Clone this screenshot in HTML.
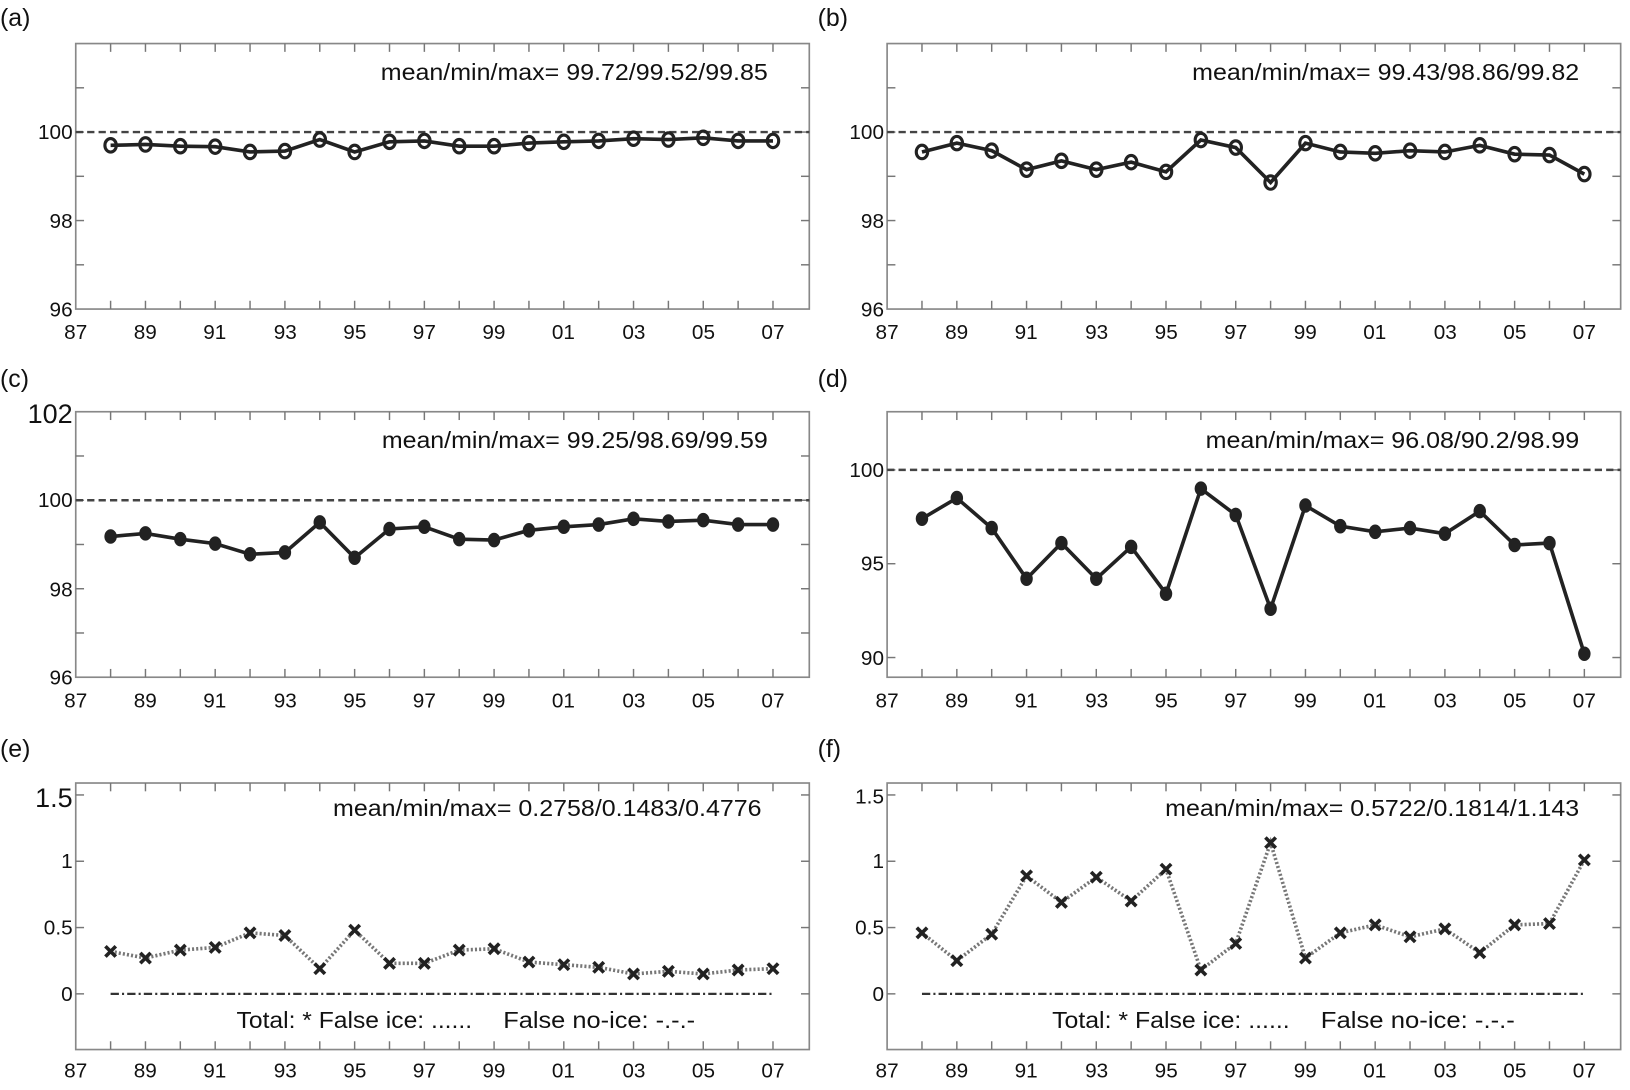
<!DOCTYPE html>
<html><head><meta charset="utf-8"><style>
html,body{margin:0;padding:0;background:#fff;}
svg{display:block;font-family:"Liberation Sans",sans-serif;}
</style></head><body>
<svg id="s" width="1630" height="1090" viewBox="0 0 1571 1051" preserveAspectRatio="none" xmlns="http://www.w3.org/2000/svg">
<rect width="1571" height="1051" fill="#fff"/>
<g font-size="24" fill="#111">
<text x="0" y="25">(a)</text><text x="788" y="25">(b)</text>
<text x="0" y="373">(c)</text><text x="788" y="373">(d)</text>
<text x="0" y="730">(e)</text><text x="788" y="730">(f)</text>
</g>
<g font-size="20" fill="#111" text-anchor="end">
<text x="70" y="134">100</text><text x="70" y="220">98</text><text x="70" y="305">96</text>
<text x="852" y="134">100</text><text x="852" y="220">98</text><text x="852" y="305">96</text>
<text x="70" y="408" font-size="26">102</text><text x="70" y="489">100</text><text x="70" y="575">98</text><text x="70" y="660">96</text>
<text x="852" y="460">100</text><text x="852" y="550">95</text><text x="852" y="641">90</text>
<text x="70" y="778" font-size="26">1.5</text><text x="70" y="837">1</text><text x="70" y="901">0.5</text><text x="70" y="965">0</text>
<text x="852" y="775">1.5</text><text x="852" y="837">1</text><text x="852" y="901">0.5</text><text x="852" y="965">0</text>
</g>
<g font-size="22" fill="#111">
<text x="367" y="77" textLength="373" lengthAdjust="spacingAndGlyphs">mean/min/max= 99.72/99.52/99.85</text>
<text x="1149" y="77" textLength="373" lengthAdjust="spacingAndGlyphs">mean/min/max= 99.43/98.86/99.82</text>
<text x="368" y="432" textLength="372" lengthAdjust="spacingAndGlyphs">mean/min/max= 99.25/98.69/99.59</text>
<text x="1162" y="432" textLength="360" lengthAdjust="spacingAndGlyphs">mean/min/max= 96.08/90.2/98.99</text>
<text x="321" y="787" textLength="413" lengthAdjust="spacingAndGlyphs">mean/min/max= 0.2758/0.1483/0.4776</text>
<text x="1123" y="787" textLength="399" lengthAdjust="spacingAndGlyphs">mean/min/max= 0.5722/0.1814/1.143</text>
</g>
<g font-size="22" fill="#111">
<text x="228" y="991" textLength="227" lengthAdjust="spacingAndGlyphs">Total: * False ice: ......</text><text x="485" y="991" textLength="185" lengthAdjust="spacingAndGlyphs">False no-ice: -.-.-</text>
<text x="1014" y="991" textLength="229" lengthAdjust="spacingAndGlyphs">Total: * False ice: ......</text><text x="1273" y="991" textLength="187" lengthAdjust="spacingAndGlyphs">False no-ice: -.-.-</text>
</g>
<g font-size="20" fill="#111" text-anchor="middle">
<g><text x="73" y="327">87</text><text x="140" y="327">89</text><text x="207" y="327">91</text><text x="275" y="327">93</text><text x="342" y="327">95</text><text x="409" y="327">97</text><text x="476" y="327">99</text><text x="543" y="327">01</text><text x="611" y="327">03</text><text x="678" y="327">05</text><text x="745" y="327">07</text></g>
<g transform="translate(782,0)"><text x="73" y="327">87</text><text x="140" y="327">89</text><text x="207" y="327">91</text><text x="275" y="327">93</text><text x="342" y="327">95</text><text x="409" y="327">97</text><text x="476" y="327">99</text><text x="543" y="327">01</text><text x="611" y="327">03</text><text x="678" y="327">05</text><text x="745" y="327">07</text></g>
<g transform="translate(0,355)"><text x="73" y="327">87</text><text x="140" y="327">89</text><text x="207" y="327">91</text><text x="275" y="327">93</text><text x="342" y="327">95</text><text x="409" y="327">97</text><text x="476" y="327">99</text><text x="543" y="327">01</text><text x="611" y="327">03</text><text x="678" y="327">05</text><text x="745" y="327">07</text></g>
<g transform="translate(782,355)"><text x="73" y="327">87</text><text x="140" y="327">89</text><text x="207" y="327">91</text><text x="275" y="327">93</text><text x="342" y="327">95</text><text x="409" y="327">97</text><text x="476" y="327">99</text><text x="543" y="327">01</text><text x="611" y="327">03</text><text x="678" y="327">05</text><text x="745" y="327">07</text></g>
<g transform="translate(0,712)"><text x="73" y="327">87</text><text x="140" y="327">89</text><text x="207" y="327">91</text><text x="275" y="327">93</text><text x="342" y="327">95</text><text x="409" y="327">97</text><text x="476" y="327">99</text><text x="543" y="327">01</text><text x="611" y="327">03</text><text x="678" y="327">05</text><text x="745" y="327">07</text></g>
<g transform="translate(782,712)"><text x="73" y="327">87</text><text x="140" y="327">89</text><text x="207" y="327">91</text><text x="275" y="327">93</text><text x="342" y="327">95</text><text x="409" y="327">97</text><text x="476" y="327">99</text><text x="543" y="327">01</text><text x="611" y="327">03</text><text x="678" y="327">05</text><text x="745" y="327">07</text></g>
</g>
<g id="plots"></g>
</svg>
<script>
var NS="http://www.w3.org/2000/svg",g=document.getElementById("plots");
function el(n,a){var e=document.createElementNS(NS,n);for(var k in a)e.setAttribute(k,a[k]);g.appendChild(e);return e;}
var P=[
{x0:73,top:42,bot:298,ymin:96,ymax:102,ticks:[97,98,99,100,101],ref:100,m:"o",d:[99.7,99.72,99.68,99.67,99.55,99.57,99.83,99.55,99.78,99.8,99.68,99.68,99.75,99.78,99.8,99.85,99.83,99.87,99.8,99.8]},
{x0:855,top:42,bot:298,ymin:96,ymax:102,ticks:[97,98,99,100,101],ref:100,m:"o",d:[99.55,99.75,99.58,99.15,99.35,99.15,99.32,99.1,99.82,99.65,98.86,99.75,99.55,99.52,99.58,99.55,99.7,99.5,99.48,99.05]},
{x0:73,top:397,bot:653,ymin:96,ymax:102,ticks:[97,98,99,100,101],ref:100,m:"f",d:[99.18,99.25,99.12,99.02,98.78,98.82,99.5,98.7,99.35,99.4,99.12,99.1,99.32,99.4,99.45,99.58,99.52,99.55,99.45,99.45]},
{x0:855,top:397,bot:653,ymin:88.95,ymax:103.1,ticks:[90,95,100],ref:100,m:"f",d:[97.4,98.5,96.9,94.2,96.1,94.2,95.9,93.4,99.0,97.6,92.6,98.1,97.0,96.7,96.9,96.6,97.8,96.0,96.1,90.2]},
{x0:73,top:755,bot:1012,ymin:-0.42,ymax:1.59,ticks:[0,0.5,1,1.5],ref:null,m:"x",d:[0.32,0.27,0.33,0.35,0.46,0.44,0.19,0.48,0.23,0.23,0.33,0.34,0.24,0.22,0.2,0.15,0.17,0.15,0.18,0.19]},
{x0:855,top:755,bot:1012,ymin:-0.42,ymax:1.59,ticks:[0,0.5,1,1.5],ref:null,m:"x",d:[0.46,0.25,0.45,0.89,0.69,0.88,0.70,0.94,0.18,0.38,1.14,0.27,0.46,0.52,0.43,0.49,0.31,0.52,0.53,1.01]}];
P.forEach(function(p){
 var x1=p.x0+707,sx=33.6;
 function X(yr){return p.x0+(yr-87)*sx;}
 function Y(v){return p.bot-(v-p.ymin)/(p.ymax-p.ymin)*(p.bot-p.top);}
 el("rect",{x:p.x0,y:p.top,width:707,height:p.bot-p.top,fill:"none",stroke:"#888","stroke-width":1.6});
 for(var yr=88;yr<=107;yr++){var x=X(yr);el("line",{x1:x,x2:x,y1:p.bot,y2:p.bot-8,stroke:"#777","stroke-width":1.4});el("line",{x1:x,x2:x,y1:p.top,y2:p.top+8,stroke:"#777","stroke-width":1.4});}
 p.ticks.forEach(function(v){var y=Y(v);el("line",{x1:p.x0,x2:p.x0+8,y1:y,y2:y,stroke:"#777","stroke-width":1.4});el("line",{x1:x1,x2:x1-8,y1:y,y2:y,stroke:"#777","stroke-width":1.4});});
 if(p.ref!==null){var y=Y(p.ref);el("line",{x1:p.x0,x2:x1,y1:y,y2:y,stroke:"#444","stroke-width":2.4,"stroke-dasharray":"7,4"});}
 else{var y=Y(0);el("line",{x1:X(88),x2:X(107),y1:y,y2:y,stroke:"#333","stroke-width":2.2,"stroke-dasharray":"8,3,2,3"});}
 var pts=p.d.map(function(v,i){return X(88+i)+","+Y(v);}).join(" ");
 if(p.m=="x") el("polyline",{points:pts,fill:"none",stroke:"#777","stroke-width":3.5,"stroke-dasharray":"2,2"});
 else el("polyline",{points:pts,fill:"none",stroke:"#222","stroke-width":3.5});
 p.d.forEach(function(v,i){var x=X(88+i),y=Y(v);
  if(p.m=="o") el("ellipse",{cx:x,cy:y,rx:5.5,ry:6.5,fill:"none",stroke:"#222","stroke-width":3});
  else if(p.m=="f") el("ellipse",{cx:x,cy:y,rx:6,ry:7,fill:"#222"});
  else{el("path",{d:"M"+(x-5)+","+(y-5)+"L"+(x+5)+","+(y+5)+"M"+(x+5)+","+(y-5)+"L"+(x-5)+","+(y+5),stroke:"#222","stroke-width":3.5});}
 });
});
</script>
</body></html>
